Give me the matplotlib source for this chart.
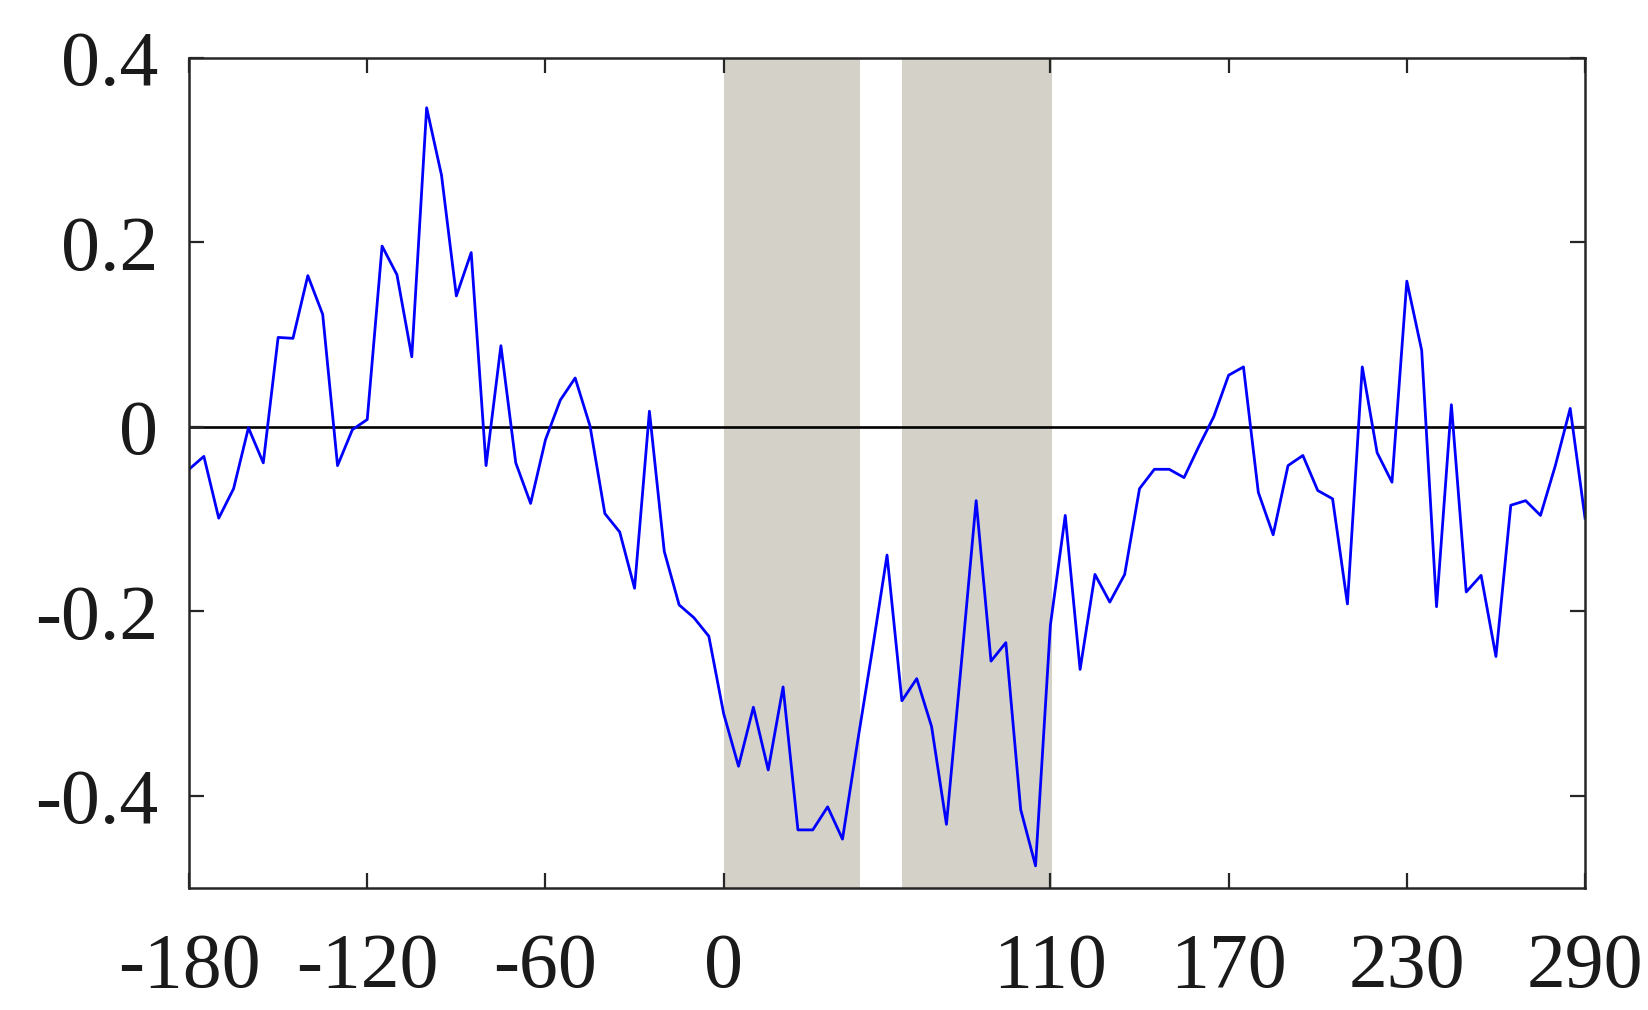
import matplotlib
matplotlib.use("Agg")
import matplotlib.pyplot as plt
import numpy as np

# ---- data ----
x_vals = list(range(-180, 291, 5))
y_vals = [
    -0.046, -0.032, -0.099, -0.067, -0.001, -0.039, 0.097, 0.096, 0.164, 0.122,
    -0.042, -0.003, 0.008, 0.196, 0.165, 0.076, 0.346, 0.273, 0.142, 0.189,
    -0.042, 0.088, -0.039, -0.083, -0.014, 0.029, 0.053, 0.001, -0.094, -0.114,
    -0.175, 0.017, -0.135, -0.193, -0.207, -0.227, -0.311, -0.368, -0.304, -0.372,
    -0.282, -0.437, -0.437, -0.412, -0.447, -0.343, -0.243, -0.139, -0.297, -0.273,
    -0.325, -0.431, -0.257, -0.080, -0.254, -0.234, -0.415, -0.476, -0.215, -0.096,
    -0.263, -0.160, -0.190, -0.160, -0.067, -0.046, -0.046, -0.055, -0.021, 0.011,
    0.056, 0.065, -0.071, -0.117, -0.042, -0.031, -0.069, -0.078, -0.192, 0.065,
    -0.028, -0.060, 0.158, 0.083, -0.195, 0.024, -0.179, -0.161, -0.249, -0.085,
    -0.080, -0.096, -0.042, 0.020, -0.099,
]
shaded_spans = [(0, 46), (60, 110.5)]
x_ticks = [-180, -120, -60, 0, 110, 170, 230, 290]
x_tick_labels = ["-180", "-120", "-60", "0", "110", "170", "230", "290"]
y_ticks = [-0.4, -0.2, 0, 0.2, 0.4]
y_tick_labels = ["-0.4", "-0.2", "0", "0.2", "0.4"]

plt.rcParams['font.family'] = ['Liberation Serif', 'DejaVu Serif']

fig = plt.figure(figsize=(16.48, 10.10), dpi=100)
ax = fig.add_axes([0.1147, 0.1208, 0.9618 - 0.1147, 0.9426 - 0.1208])

for a, b in shaded_spans:
    ax.axvspan(a, b, color='#d4d2c8', lw=0, zorder=0)

ax.axhline(0, color='black', lw=1.9, zorder=1)
ax.plot(x_vals, y_vals, color='#0000ff', lw=2.0, zorder=2)

ax.set_xlim(-180, 290)
ax.set_ylim(-0.5, 0.4)
ax.set_xticks(x_ticks)
ax.set_xticklabels(x_tick_labels)
ax.set_yticks(y_ticks)
ax.set_yticklabels(y_tick_labels)

spine_c = '#262626'
for s in ax.spines.values():
    s.set_linewidth(1.8)
    s.set_color(spine_c)
ax.tick_params(axis='both', which='major', direction='in', length=11, width=1.6,
               color=spine_c, labelsize=56, labelcolor='#1a1a1a',
               top=True, right=True)
ax.tick_params(axis='x', pad=32)
ax.tick_params(axis='y', pad=22)

fig.savefig('out.png', dpi=100)
